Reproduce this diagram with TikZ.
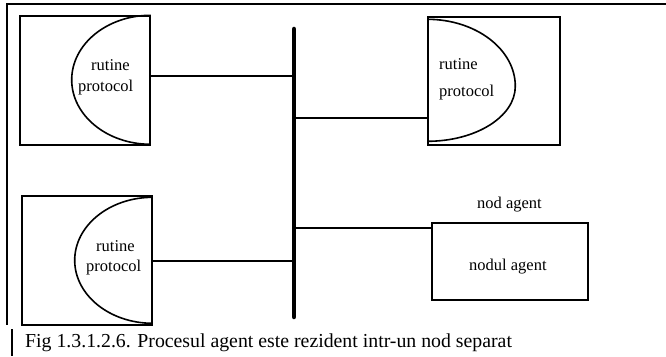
\documentclass[tikz,border=0pt]{standalone}
\usepackage{fontspec}
\setmainfont{Liberation Serif}
\begin{document}
\begin{tikzpicture}[x=1pt,y=1pt,
  box/.style={draw,line width=1.4pt,inner sep=0pt,minimum width=#1},
  halfcurve/.style={line width=1.6pt},
  link/.style={line width=1.9pt},
  bus/.style={line width=4.5pt,line cap=round},
  frame/.style={line width=1.3pt},
  lbl/.style={inner sep=0pt,anchor=base west,font=\fontsize{16.5}{18}\selectfont},
  captiontext/.style={inner sep=0pt,anchor=base west,font=\fontsize{19.8}{22}\selectfont}]
\useasboundingbox (0,0) rectangle (666,356);

% page frame (top and left rules)
\coordinate (fa) at (666,352);
\coordinate (fb) at (7,352);
\coordinate (fc) at (7,31);
\coordinate (fd) at (12,27);
\coordinate (fe) at (12,0);
\draw[frame] (fa) -- (fb) -- (fc);
\draw[frame] (fd) -- (fe);

% the three hosts with their protocol routines
\node[box=130pt,minimum height=129pt] (h1) at (85,275.5) {};
\node[box=132pt,minimum height=128pt] (h2) at (494,275) {};
\node[box=130pt,minimum height=129pt] (h3) at (87,95.5) {};
\draw[halfcurve] (h1.north east) arc[start angle=90,end angle=270,x radius=79,y radius=64.5];
\draw[halfcurve] ([yshift=-3pt]h2.north west)
  arc[start angle=90,end angle=0,x radius=88,y radius=67]
  arc[start angle=0,end angle=-90,x radius=88,y radius=55];
\draw[halfcurve] ([yshift=-2pt]h3.north east) arc[start angle=90,end angle=270,x radius=78,y radius=63];

\node[lbl] (t1a) at (91,285) {rutine};
\node[lbl] (t1b) at (78,264) {protocol};
\node[lbl] (t2a) at (439,286) {rutine};
\node[lbl] (t2b) at (439,259) {protocol};
\node[lbl] (t3a) at (96,104) {rutine};
\node[lbl] (t3b) at (86,84) {protocol};

% agent node
\node[box=156pt,minimum height=77pt] (ag) at (510,94.5) {};
\node[lbl] (agt) at (477,147) {nod agent};
\node[lbl] (agn) at (469,85) {nodul agent};

% shared bus
\coordinate (bt) at (294,327);
\coordinate (bb) at (294,39);
\draw[bus] (bt) -- (bb);

% attachments to the bus
\coordinate (c1) at (294,280);
\coordinate (c2) at (294,238);
\coordinate (c3) at (294,95);
\coordinate (c4) at (294,128);
\draw[link] (c1 -| h1.east) -- (c1);
\draw[link] (c2) -- (c2 -| h2.west);
\draw[link] (c3 -| h3.east) -- (c3);
\draw[link] (c4) -- (c4 -| ag.west);

% caption
\node[captiontext] (capt) at (25,9) {Fig 1.3.1.2.6. Procesul agent este rezident intr-un nod separat};
\end{tikzpicture}
\end{document}
